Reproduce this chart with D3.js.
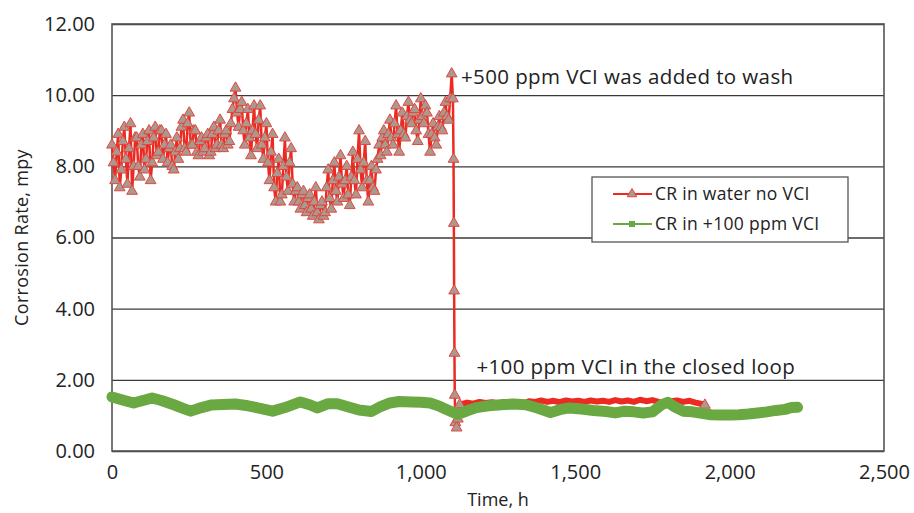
<!DOCTYPE html>
<html>
<head>
<meta charset="utf-8">
<script src="https://cdn.jsdelivr.net/npm/d3@7"></script>
<style>
  body { margin: 0; background: #fff; }
  text { font-family: "Open Sans", "Lato", sans-serif; fill: #222; }
</style>
</head>
<body>
<div id="chart"></div>
<script>
var W = 914, H = 513
var margin = {top: 24, right: 30, bottom: 62, left: 112}
var w = W - margin.left - margin.right
var h = H - margin.top - margin.bottom

// CR in water no VCI, before the 500 ppm wash (hours / mpy)
var redHours = [0,5,10,15,20,25,30,35,40,45,50,55,60,65,70,75,80,85,90,95,
  100,105,110,115,120,125,130,135,140,145,150,155,160,165,170,175,180,185,190,195,
  200,205,210,215,220,225,230,235,240,245,250,255,260,265,270,275,280,285,290,295,
  300,305,310,315,320,325,330,335,340,345,350,355,360,365,370,375,380,385,390,395,
  400,405,410,415,420,425,430,435,440,445,450,455,460,465,470,475,480,485,490,495,
  500,505,510,515,520,525,530,535,540,545,550,555,560,565,570,575,580,585,590,595,
  600,605,610,615,620,625,630,635,640,645,650,655,660,665,670,675,680,685,690,695,
  700,705,710,715,720,725,730,735,740,745,750,755,760,765,770,775,780,785,790,795,
  800,805,810,815,820,825,830,835,840,845,850,855,860,865,870,875,880,885,890,895,
  900,905,910,915,920,925,930,935,940,945,950,955,960,965,970,975,980,985,990,995,
  1000,1005,1010,1015,1020,1025,1030,1035,1040,1045,1050,1055,1060,1065,1070,1075,1080,1085,1090,1095,
  1100,1104,1106,1107,1108,1109,1110,1112,1116,1120,1126]
var redValues = [8.6,8.1,7.6,8.4,8.9,7.4,7.9,8.7,9.1,8.2,7.5,8.5,9.2,7.3,8.0,8.8,8.8,8.0,7.7,8.6,
  8.9,7.9,8.2,8.7,9.0,7.6,8.1,8.8,9.1,8.3,8.4,9.0,9.0,8.2,8.6,8.9,8.1,8.5,8.6,8.0,
  7.9,8.4,8.8,8.2,8.5,9.1,9.3,8.5,8.4,9.2,9.5,8.6,8.6,9.0,9.0,8.4,8.3,8.7,8.8,8.4,
  8.5,8.8,8.9,8.3,8.4,8.9,9.1,8.5,8.6,9.0,9.3,8.6,8.5,8.9,9.0,8.6,8.7,9.2,9.6,9.9,
  10.2,9.5,9.1,9.6,9.8,9.0,8.6,9.2,9.6,8.8,8.3,9.0,9.7,8.9,8.5,9.3,9.7,8.6,8.2,8.8,
  9.2,8.1,7.6,8.4,8.9,7.4,7.0,7.8,8.2,7.0,7.2,8.0,8.8,7.7,7.3,8.1,8.5,7.5,7.0,7.3,
  7.4,7.0,6.8,7.2,7.3,6.9,6.7,7.1,7.2,6.8,6.6,7.0,7.4,6.7,6.5,6.9,7.0,6.6,6.7,7.4,
  7.9,7.1,6.8,7.6,8.1,7.3,7.0,7.7,8.3,7.5,7.1,7.6,8.0,7.2,6.9,7.7,8.4,7.6,7.2,8.2,
  9.0,7.9,7.4,8.1,8.7,7.6,7.0,7.6,8.0,7.4,7.3,7.9,8.2,8.6,8.3,8.8,9.0,8.6,8.4,8.9,
  9.3,8.8,8.6,9.2,9.7,8.9,8.4,9.0,9.5,8.9,8.8,9.4,9.8,9.3,9.2,9.5,9.6,9.0,8.7,9.3,
  9.9,9.4,9.2,9.7,9.5,8.9,8.4,8.9,9.2,8.8,8.6,9.1,9.4,9.1,9.0,9.5,9.8,9.4,9.3,9.9,
  10.6,9.9,8.2,6.4,4.5,2.75,1.57,0.8,0.65,0.9,1.3]

// CR in water no VCI, after the wash (mostly hidden under the green series)
var redLateHours = [1126,1150,1170,1190,1210,1230,1250,1270,1290,1310,1330,1350,1370,1390,1410,
  1430,1450,1470,1490,1510,1530,1550,1570,1590,1610,1630,1650,1670,1690,1710,1730,1750,
  1770,1790,1810,1830,1850,1870,1890,1910,1920]
var redLateValues = [1.3,1.36,1.33,1.38,1.35,1.37,1.34,1.38,1.35,1.37,1.33,1.4,1.38,1.42,1.38,
  1.41,1.37,1.42,1.39,1.41,1.38,1.42,1.39,1.41,1.38,1.43,1.39,1.42,1.38,1.44,1.4,1.43,
  1.38,1.36,1.4,1.42,1.38,1.41,1.36,1.32,1.29]

// CR in +100 ppm VCI
var greenHours = [0,20,40,70,100,130,160,200,230,255,290,320,360,400,440,480,520,560,610,640,
  665,700,730,760,800,840,870,900,930,970,1000,1030,1060,1085,1120,1150,1180,1220,1260,1300,
  1340,1380,1420,1450,1480,1520,1560,1600,1630,1660,1690,1720,1750,1780,1800,1820,1850,1880,
  1910,1940,1970,2000,2030,2060,2090,2120,2150,2180,2200,2220]
var greenValues = [1.52,1.47,1.42,1.35,1.42,1.49,1.42,1.3,1.2,1.12,1.22,1.29,1.31,1.32,1.27,1.2,1.12,1.22,1.38,1.3,
  1.21,1.33,1.33,1.25,1.15,1.11,1.25,1.35,1.39,1.38,1.37,1.35,1.26,1.16,1.03,1.13,1.22,1.27,1.3,1.32,
  1.3,1.2,1.08,1.16,1.21,1.18,1.14,1.11,1.07,1.12,1.1,1.07,1.1,1.3,1.37,1.25,1.12,1.1,
  1.06,1.02,1.01,1.01,1.02,1.04,1.07,1.1,1.14,1.17,1.22,1.23]

var xTicks = [0, 500, 1000, 1500, 2000, 2500]
var yTicks = [0, 2, 4, 6, 8, 10, 12]
var seriesNames = ["CR in water no VCI", "CR in +100 ppm VCI"]
var notes = [
  {text: "+500 ppm VCI was added to wash", hour: 1130, value: 10.3},
  {text: "+100 ppm VCI in the closed loop", hour: 1180, value: 2.17}
]

var red = "#ec2a22"
var green = "#6aa842"

var svg = d3.select("#chart").append("svg").attr("width", W).attr("height", H)
svg.append("rect").attr("width", W).attr("height", H).attr("fill", "#fff")
var g = svg.append("g").attr("transform", "translate(" + margin.left + "," + margin.top + ")")

var x = d3.scaleLinear().domain([0, 2500]).range([0, w])
var y = d3.scaleLinear().domain([0, 12]).range([h, 0])

// grid + y labels
var yAxis = g.append("g")
  .call(d3.axisLeft(y).tickValues(yTicks).tickSize(-w).tickPadding(17).tickFormat(d3.format(".2f")))
yAxis.select(".domain").remove()
yAxis.selectAll("line").attr("stroke", "#3a3a3a").attr("stroke-width", 1.3)
yAxis.selectAll("text").attr("font-size", 20).attr("fill", "#222")

var xAxis = g.append("g").attr("transform", "translate(0," + h + ")")
  .call(d3.axisBottom(x).tickValues(xTicks).tickSize(0).tickPadding(14).tickFormat(d3.format(",")))
xAxis.select(".domain").remove()
xAxis.selectAll("text").attr("font-size", 20).attr("fill", "#222")

// plot frame
g.append("rect").attr("width", w).attr("height", h)
  .attr("fill", "none").attr("stroke", "#555").attr("stroke-width", 1.6)

var redPts = redHours.map(function(d, i) { return [d, redValues[i]] })
var redLatePts = redLateHours.map(function(d, i) { return [d, redLateValues[i]] })
var greenPts = greenHours.map(function(d, i) { return [d, greenValues[i]] })

var line = d3.line().x(function(d) { return x(d[0]) }).y(function(d) { return y(d[1]) })

g.append("path").attr("d", line(redLatePts)).attr("fill", "none")
  .attr("stroke", red).attr("stroke-width", 6).attr("stroke-linejoin", "round")
g.append("path").attr("d", line(redPts)).attr("fill", "none")
  .attr("stroke", red).attr("stroke-width", 2.5).attr("stroke-linejoin", "round")

var tri = d3.symbol().type(d3.symbolTriangle).size(50)
g.selectAll("path.tri")
  .data(redPts.concat([redLatePts[redLatePts.length - 1]]))
  .enter().append("path")
  .attr("class", "tri")
  .attr("d", tri)
  .attr("transform", function(d) { return "translate(" + x(d[0]) + "," + y(d[1]) + ")" })
  .attr("fill", "#ad9890")
  .attr("stroke", "#e0493e")
  .attr("stroke-width", 1)

g.append("path").attr("d", line(greenPts)).attr("fill", "none")
  .attr("stroke", green).attr("stroke-width", 11)
  .attr("stroke-linejoin", "round").attr("stroke-linecap", "round")

// annotations
g.selectAll("text.note").data(notes).enter().append("text")
  .attr("class", "note")
  .attr("x", function(d) { return x(d.hour) })
  .attr("y", function(d) { return y(d.value) })
  .attr("font-size", 20.5)
  .attr("letter-spacing", 0.4)
  .text(function(d) { return d.text })

// axis titles
svg.append("text").attr("x", margin.left + w / 2).attr("y", 506)
  .attr("text-anchor", "middle").attr("font-size", 18).text("Time, h")
svg.append("text").attr("transform", "translate(28," + (margin.top + h / 2) + ") rotate(-90)")
  .attr("text-anchor", "middle").attr("font-size", 18).attr("letter-spacing", 0.3)
  .text("Corrosion Rate, mpy")

// legend
var lg = svg.append("g").attr("transform", "translate(592,177)")
lg.append("rect").attr("width", 256).attr("height", 65)
  .attr("fill", "#fff").attr("stroke", "#555").attr("stroke-width", 1.3)
var items = lg.selectAll("g.item").data(seriesNames).enter().append("g")
  .attr("class", "item")
  .attr("transform", function(d, i) { return "translate(0," + (17 + i * 30) + ")" })
items.append("line").attr("x1", 21).attr("x2", 60)
  .attr("stroke", function(d, i) { return i == 0 ? red : green }).attr("stroke-width", 2)
items.append("path")
  .attr("d", function(d, i) {
    return d3.symbol().type(i == 0 ? d3.symbolTriangle : d3.symbolSquare).size(i == 0 ? 40 : 36)()
  })
  .attr("transform", "translate(40,0)")
  .attr("fill", function(d, i) { return i == 0 ? "#ad9890" : green })
  .attr("stroke", function(d, i) { return i == 0 ? "#e0493e" : "none" })
items.append("text").attr("x", 63).attr("dy", "0.35em").attr("font-size", 17.5)
  .attr("letter-spacing", 0.3)
  .text(function(d) { return d })
</script>
</body>
</html>
